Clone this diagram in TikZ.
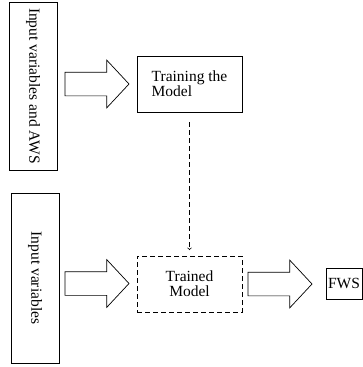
\documentclass[tikz,border=0pt]{standalone}
\usepackage{fontspec}
\setmainfont{Liberation Serif}
\usetikzlibrary{positioning}
\usetikzlibrary{arrows}
\usetikzlibrary{shapes.arrows}

\begin{document}
\begin{tikzpicture}[x=1pt,y=-1pt,line width=0.7pt,
	nodes={font=\fontsize{15.5}{15}\selectfont, inner sep=0pt, outer sep=0pt},
	box/.style={draw, rectangle},
	fat/.style={draw, single arrow, anchor=tail, inner xsep=0pt, inner ysep=11.5pt, minimum height=64pt, single arrow head extend=12pt, single arrow tip angle=94}]
		\useasboundingbox (0,0) rectangle (362,367);
		\node (aws) [box, rotate=-90, minimum width=168pt, minimum height=48pt] at (33,86) {Input variables and AWS};
		\node (train) [box, minimum width=105pt, minimum height=56pt, align=left] at (189.5,84) {Training the\\Model};
		\node (inp) [box, rotate=-90, minimum width=170pt, minimum height=48pt] at (35,278) {Input variables};
		\node (trained) [box, dash pattern=on 5pt off 3pt, minimum width=105pt, minimum height=56pt, align=center] at (189.5,284) {Trained\\Model};
		\node (fws) [box, anchor=west, inner sep=2pt, minimum height=31pt] at (326,283.5) {FWS};
		\node (a1) [fat] at (65,84) {};
		\node (a2) [fat] at (65,283.5) {};
		\node (a3) [fat] at (248,284) {};
		\draw [->, dash pattern=on 5pt off 3pt, shorten <=10pt, shorten >=6pt] (train) -- (trained);
		\end{tikzpicture}
\end{document}
